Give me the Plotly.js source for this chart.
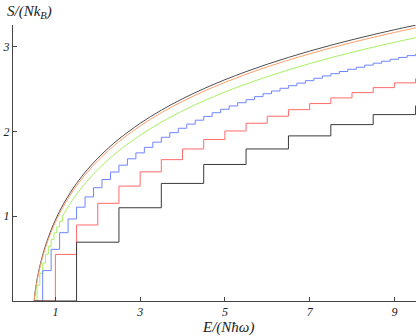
<!DOCTYPE html>
<html>
<head>
<meta charset="utf-8">
<script src="https://cdn.plot.ly/plotly-3.0.1.min.js"></script>
<style>html,body{margin:0;padding:0;background:#fff;}#chart{width:416px;height:336px;}</style>
</head>
<body>
<div id="chart"></div>
<script>
// N = 1 oscillator (step values)
var stepX1 = [0.5,1.5,2.5,3.5,4.5,5.5,6.5,7.5,8.5,9.5];
var stepS1 = [0,0.693,1.099,1.386,1.609,1.792,1.946,2.079,2.197,2.303];
// N = 2
var stepX2 = [0.5,1,1.5,2,2.5,3,3.5,4,4.5,5,5.5,6,6.5,7,7.5,8,8.5,9,9.5];
var stepS2 = [0,0.549,0.896,1.151,1.354,1.522,1.666,1.792,1.903,2.004,2.095,2.178,2.255,2.327,2.394,2.456,2.515,2.571,2.623];
// N = 5
var stepX5 = [0.5,0.7,0.9,1.1,1.3,1.5,1.7,1.9,2.1,2.3,2.5,2.7,2.9,3.1,3.3,3.5,3.7,3.9,4.1,4.3,4.5,4.7,4.9,5.1,5.3,5.5,5.7,5.9,6.1,6.3,6.5,6.7,6.9,7.1,7.3,7.5,7.7,7.9,8.1,8.3,8.5,8.7,8.9,9.1,9.3,9.5];
var stepS5 = [0,0.358,0.609,0.805,0.967,1.106,1.227,1.335,1.432,1.520,1.601,1.676,1.746,1.811,1.872,1.930,1.984,2.036,2.085,2.131,2.176,2.219,2.260,2.299,2.337,2.373,2.409,2.443,2.475,2.507,2.538,2.568,2.597,2.625,2.653,2.679,2.705,2.731,2.755,2.780,2.803,2.826,2.849,2.871,2.892,2.913];
// N = 15 (first steps, then smooth part)
var stepX15 = [0.5,0.5667,0.6333,0.7,0.7667,0.8333,0.9,0.9667,1.0333,1.1,1.1667];
var stepS15 = [0,0.1848,0.3275,0.4470,0.5508,0.6433,0.7268,0.8031,0.8735,0.9389,1.0000];
var smoothX15 = [1.1667,1.35,1.5,1.75,2.0,2.25,2.5,3.0,3.5,4.0,4.5,5.0,5.5,6.0,6.5,7.0,7.5,8.0,8.5,9.0,9.5];
var smoothS15 = [1.0000,1.1506,1.2579,1.4138,1.5480,1.6661,1.7715,1.9536,2.1074,2.2405,2.3579,2.4630,2.5579,2.6446,2.7244,2.7983,2.8671,2.9314,2.9919,3.0489,3.1028];
// N = 100 and N -> infinity (smooth)
var curveX = [0.5,0.51,0.52,0.535,0.55,0.575,0.6,0.65,0.7,0.75,0.8,0.9,1.0,1.1,1.2,1.35,1.5,1.75,2.0,2.25,2.5,3.0,3.5,4.0,4.5,5.0,5.5,6.0,6.5,7.0,7.5,8.0,8.5,9.0,9.5];
var curveS100 = [0,0.0462,0.0855,0.1376,0.1839,0.2531,0.3149,0.4233,0.5174,0.6013,0.6774,0.8116,0.9281,1.0312,1.1239,1.2479,1.3576,1.5164,1.6528,1.7726,1.8793,2.0634,2.2185,2.3527,2.4709,2.5766,2.6721,2.7592,2.8394,2.9136,2.9827,3.0472,3.1079,3.1650,3.2191];
var curveSinf = [0,0.0561,0.0984,0.1529,0.2010,0.2720,0.3351,0.4453,0.5407,0.6255,0.7023,0.8376,0.9548,1.0585,1.1517,1.2762,1.3863,1.5457,1.6825,1.8026,1.9095,2.0939,2.2493,2.3837,2.5020,2.6078,2.7034,2.7906,2.8708,2.9451,3.0142,3.0788,3.1395,3.1967,3.2508];
var xTicks = [1,3,5,7,9];
var yTicks = [1,2,3];

var cInf = '#4d4d4d', c100 = '#ff9f6a', c15 = '#a8f060', c5 = '#6f84ff', c2 = '#ff6a6a', c1 = '#3a3a3a';
var traces = [
  {x: curveX, y: curveSinf, mode: 'lines', line: {color: cInf, width: 1, shape: 'spline'}},
  {x: curveX, y: curveS100, mode: 'lines', line: {color: c100, width: 1, shape: 'spline'}},
  {x: stepX15, y: stepS15, mode: 'lines', line: {color: c15, width: 1, shape: 'hv'}},
  {x: smoothX15, y: smoothS15, mode: 'lines', line: {color: c15, width: 1, shape: 'spline'}},
  {x: stepX5, y: stepS5, mode: 'lines', line: {color: c5, width: 1, shape: 'hv'}},
  {x: stepX2, y: stepS2, mode: 'lines', line: {color: c2, width: 1, shape: 'hv'}},
  {x: stepX1, y: stepS1, mode: 'lines', line: {color: c1, width: 1, shape: 'hv'}}
];
var serif = '"Times New Roman", "Liberation Serif", "DejaVu Serif", serif';
var tf = {family: serif, size: 12, color: '#222', style: 'italic'};
var layout = {
  width: 416, height: 336,
  font: {family: serif},
  margin: {l: 13, r: 0, t: 25, b: 35, pad: 0},
  paper_bgcolor: '#fff', plot_bgcolor: '#fff',
  showlegend: false,
  xaxis: {range: [0, 9.51], tickvals: xTicks, ticktext: xTicks.map(String), ticks: 'inside', ticklen: 4, tickcolor: '#444',
          showline: true, linecolor: '#444', linewidth: 1, showgrid: false, zeroline: false, tickfont: tf, automargin: false},
  yaxis: {range: [0, 3.253], tickvals: yTicks, ticktext: yTicks.map(String), ticks: 'inside', ticklen: 4, tickcolor: '#444',
          showline: true, linecolor: '#444', linewidth: 1, showgrid: false, zeroline: false, tickfont: tf, automargin: false},
  annotations: [
    {text: 'S/(Nk<sub>B</sub>)', xref: 'paper', yref: 'paper', x: 0, xshift: -8, xanchor: 'left', y: 1, yshift: 13, yanchor: 'middle',
     showarrow: false, font: {family: serif, size: 15, color: '#222', style: 'italic'}},
    {text: 'E/(Nħω)', xref: 'paper', yref: 'paper', x: 0.533, xanchor: 'center', y: 0, yshift: -26, yanchor: 'middle',
     showarrow: false, font: {family: serif, size: 15, color: '#222', style: 'italic'}}
  ]
};
Plotly.newPlot('chart', traces, layout, {staticPlot: true, displayModeBar: false});
</script>
</body>
</html>
